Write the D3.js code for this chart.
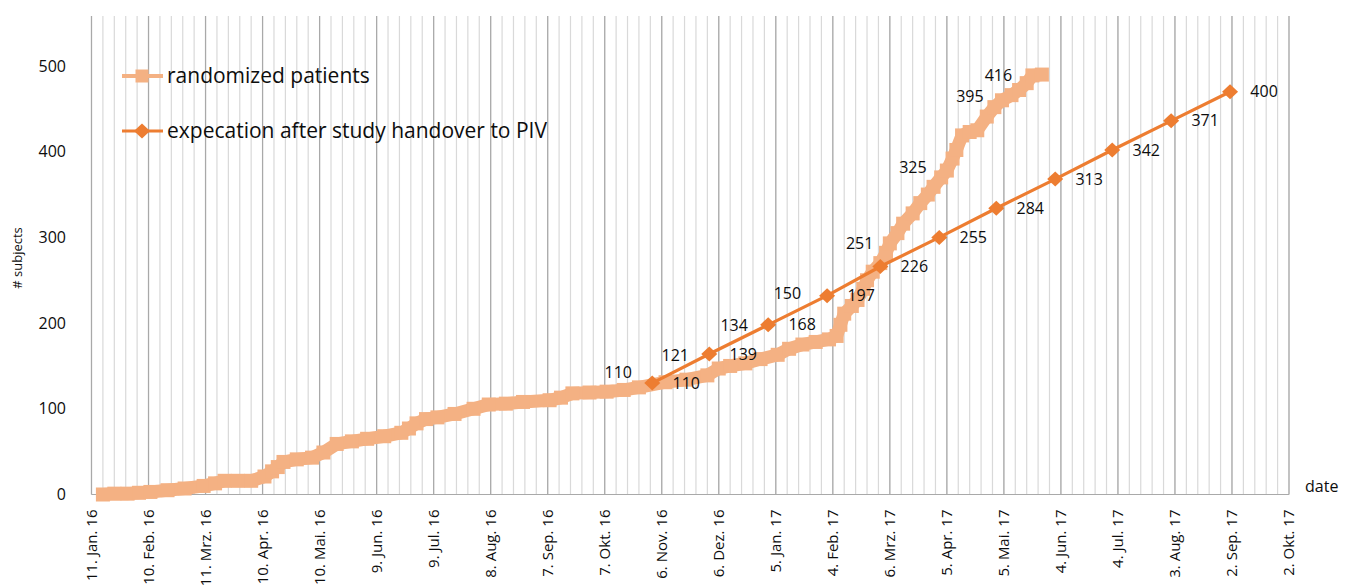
<!DOCTYPE html>
<html>
<head>
<meta charset="utf-8">
<script src="https://cdn.jsdelivr.net/npm/d3@7"></script>
<style>
  html, body { margin: 0; padding: 0; background: #fff; }
  svg { display: block; font-family: "Open Sans", sans-serif; }
</style>
</head>
<body>
<svg id="chart" width="1353" height="586"></svg>
<script>
// ---------------- data ----------------
const tickDates = ["2016-01-11","2016-02-10","2016-03-11","2016-04-10","2016-05-10","2016-06-09",
  "2016-07-09","2016-08-08","2016-09-07","2016-10-07","2016-11-06","2016-12-06","2017-01-05",
  "2017-02-04","2017-03-06","2017-04-05","2017-05-05","2017-06-04","2017-07-04","2017-08-03",
  "2017-09-02","2017-10-02"];
const tickLabels = ["11. Jan. 16","10. Feb. 16","11. Mrz. 16","10. Apr. 16","10. Mai. 16","9. Jun. 16",
  "9. Jul. 16","8. Aug. 16","7. Sep. 16","7. Okt. 16","6. Nov. 16","6. Dez. 16","5. Jan. 17",
  "4. Feb. 17","6. Mrz. 17","5. Apr. 17","5. Mai. 17","4. Jun. 17","4. Jul. 17","3. Aug. 17",
  "2. Sep. 17","2. Okt. 17"];
const yTicks = [0, 100, 200, 300, 400, 500];

const randDates = ["2016-01-17","2016-01-23","2016-01-30","2016-02-05","2016-02-11","2016-02-20",
  "2016-02-29","2016-03-10","2016-03-16","2016-03-21","2016-03-28","2016-04-04","2016-04-11",
  "2016-04-15","2016-04-18","2016-04-21","2016-04-28","2016-05-06","2016-05-12","2016-05-19",
  "2016-05-27","2016-06-04","2016-06-13","2016-06-22","2016-06-26","2016-06-30","2016-07-05",
  "2016-07-11","2016-07-20","2016-07-30","2016-08-07","2016-08-16","2016-08-25","2016-09-08",
  "2016-09-14","2016-09-20","2016-09-29","2016-10-08","2016-10-17","2016-10-25","2016-11-08",
  "2016-11-19","2016-11-30","2016-12-06","2016-12-12","2016-12-20","2016-12-28","2017-01-06",
  "2017-01-12","2017-01-19","2017-01-26","2017-02-02","2017-02-06","2017-02-08","2017-02-10",
  "2017-02-14","2017-02-17","2017-02-20","2017-02-22","2017-02-25","2017-03-01","2017-03-04",
  "2017-03-06","2017-03-10","2017-03-13","2017-03-18","2017-03-22","2017-03-26","2017-03-29",
  "2017-04-02","2017-04-05","2017-04-08","2017-04-10","2017-04-13","2017-04-17","2017-04-21",
  "2017-04-26","2017-04-30","2017-05-04","2017-05-09","2017-05-13","2017-05-17","2017-05-20",
  "2017-05-25"];
const randValues = [0,1,1,2,3,5,
  7,10,13,16,16,16,21,
  27,32,38,41,43,49,59,
  62,65,68,72,77,83,88,
  90,94,100,105,106,108,110,
  113,118,119,120,122,125,131,
  134,139,147,150,153,158,163,
  170,175,178,181,185,198,211,
  220,227,240,250,260,270,282,
  293,305,316,328,340,350,359,
  370,378,392,402,419,423,425,
  441,452,460,466,472,480,489,
  490];

const expDates = ["2016-11-01","2016-12-01","2017-01-01","2017-02-01","2017-03-01","2017-04-01",
  "2017-05-01","2017-06-01","2017-07-01","2017-08-01","2017-09-01"];
const expValues = [130,164,198,232,266,300,334,368,402,436,470];
const expLabels = ["110","139","168","197","226","255","284","313","342","371","400"];

// labels attached to the randomized series (placed left of their anchor)
const randLabelDates = ["2016-11-01","2016-12-01","2017-01-01","2017-01-29","2017-03-08","2017-04-05","2017-05-05","2017-05-20"];
const randLabelValues = [142,162,197,235,293,382,464,489];
const randLabelTexts = ["110","121","134","150","251","325","395","416"];

const seriesNames = ["randomized patients", "expecation after study handover to PIV"];

// ---------------- layout ----------------
const plotLeft = 91.5, plotRight = 1289, plotBottom = 494.5, gridTop = 16;
const pinkColor = "#F4B183", orangeColor = "#ED7D31";
const majorGrid = "#a9a9a9", minorGrid = "#d9d9d9";
const textColor = "#0d0d0d";

const parse = d3.utcParse("%Y-%m-%d");
const startDate = parse(tickDates[0]);
const endDate = parse(tickDates[tickDates.length - 1]);

const x = d3.scaleUtc().domain([startDate, endDate]).range([plotLeft, plotRight]);
const y = d3.scaleLinear().domain([0, 500]).range([plotBottom, 66]);

const svg = d3.select("#chart");

// minor gridlines every 6 days
const minorDates = d3.range(0, 631, 6).map(d => d3.utcDay.offset(startDate, d));
svg.append("g").selectAll("line").data(minorDates).join("line")
  .attr("x1", d => x(d)).attr("x2", d => x(d))
  .attr("y1", gridTop).attr("y2", plotBottom)
  .attr("stroke", minorGrid).attr("stroke-width", 1.2);

// major gridlines
const majorDates = tickDates.map(parse);
svg.append("g").selectAll("line").data(majorDates).join("line")
  .attr("x1", d => x(d)).attr("x2", d => x(d))
  .attr("y1", gridTop).attr("y2", plotBottom)
  .attr("stroke", majorGrid).attr("stroke-width", 1.2);

// bottom axis line
svg.append("line")
  .attr("x1", plotLeft).attr("x2", plotRight)
  .attr("y1", plotBottom).attr("y2", plotBottom)
  .attr("stroke", majorGrid).attr("stroke-width", 1.2);

// x tick labels (rotated)
svg.append("g").selectAll("text").data(majorDates).join("text")
  .attr("transform", d => `translate(${x(d) + 5},${plotBottom + 15}) rotate(-90)`)
  .attr("text-anchor", "end")
  .attr("font-size", 15)
  .attr("fill", textColor)
  .text((d, i) => tickLabels[i]);

// y tick labels
svg.append("g").selectAll("text").data(yTicks).join("text")
  .attr("x", 66).attr("y", d => y(d)).attr("dy", "0.35em")
  .attr("text-anchor", "end").attr("font-size", 16).attr("fill", textColor)
  .text(d => d);

// axis titles
svg.append("text")
  .attr("transform", `translate(22,258) rotate(-90)`)
  .attr("text-anchor", "middle").attr("font-size", 13).attr("fill", textColor)
  .text("# subjects");
svg.append("text")
  .attr("x", 1305).attr("y", 486).attr("dy", "0.35em")
  .attr("font-size", 16).attr("fill", textColor)
  .text("date");

// randomized patients series
const randData = randDates.map((d, i) => ({ date: parse(d), value: randValues[i] }));
const lineGen = d3.line().x(d => x(d.date)).y(d => y(d.value));
svg.append("path").datum(randData)
  .attr("d", lineGen)
  .attr("fill", "none").attr("stroke", pinkColor)
  .attr("stroke-width", 13).attr("stroke-linejoin", "miter");
const sq = 14;
svg.append("g").selectAll("rect").data(randData).join("rect")
  .attr("x", d => x(d.date) - sq / 2).attr("y", d => y(d.value) - sq / 2)
  .attr("width", sq).attr("height", sq)
  .attr("fill", pinkColor);

// expectation series
const expData = expDates.map((d, i) => ({ date: parse(d), value: expValues[i], label: expLabels[i] }));
svg.append("path").datum(expData)
  .attr("d", lineGen)
  .attr("fill", "none").attr("stroke", orangeColor).attr("stroke-width", 3.2);
const diamond = "M0,-7.5L8,0L0,7.5L-8,0Z";
svg.append("g").selectAll("path").data(expData).join("path")
  .attr("d", diamond)
  .attr("transform", d => `translate(${x(d.date)},${y(d.value)})`)
  .attr("fill", orangeColor);

// data labels: expectation (right)
svg.append("g").selectAll("text").data(expData).join("text")
  .attr("x", d => x(d.date) + 34).attr("y", d => y(d.value)).attr("dy", "0.35em")
  .attr("text-anchor", "middle").attr("font-size", 16).attr("fill", textColor)
  .text(d => d.label);

// data labels: randomized (left)
const randLabelData = randLabelDates.map((d, i) => ({ date: parse(d), value: randLabelValues[i], label: randLabelTexts[i] }));
svg.append("g").selectAll("text").data(randLabelData).join("text")
  .attr("x", d => x(d.date) - 34).attr("y", d => y(d.value)).attr("dy", "0.35em")
  .attr("text-anchor", "middle").attr("font-size", 16).attr("fill", textColor)
  .text(d => d.label);

// legend
const legend = svg.append("g");
legend.append("line").attr("x1", 122).attr("x2", 163).attr("y1", 76).attr("y2", 76)
  .attr("stroke", pinkColor).attr("stroke-width", 4);
legend.append("rect").attr("x", 142 - 6.5).attr("y", 76 - 6.5).attr("width", 13).attr("height", 13)
  .attr("fill", pinkColor);
legend.append("text").attr("x", 167).attr("y", 76).attr("dy", "0.35em")
  .attr("font-size", 21).attr("fill", textColor).text(seriesNames[0]);
legend.append("line").attr("x1", 122).attr("x2", 163).attr("y1", 131).attr("y2", 131)
  .attr("stroke", orangeColor).attr("stroke-width", 3.2);
legend.append("path").attr("d", diamond).attr("transform", "translate(142,131)")
  .attr("fill", orangeColor);
legend.append("text").attr("x", 167).attr("y", 131).attr("dy", "0.35em")
  .attr("font-size", 21).attr("fill", textColor).text(seriesNames[1]);
</script>
</body>
</html>
